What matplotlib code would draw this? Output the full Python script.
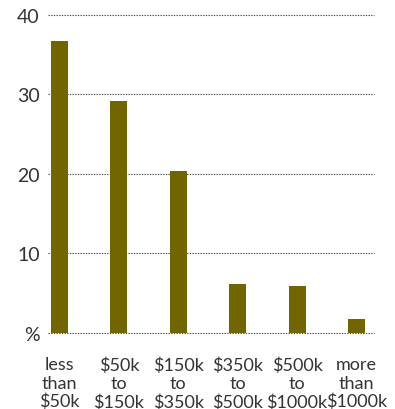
import matplotlib
matplotlib.use("Agg")
import matplotlib.pyplot as plt

categories = ["less\nthan\n$50k", "$50k\nto\n$150k", "$150k\nto\n$350k",
              "$350k\nto\n$500k", "$500k\nto\n$1000k", "more\nthan\n$1000k"]
values = [36.7, 29.2, 20.4, 6.1, 5.9, 1.7]
yticks = [0, 10, 20, 30, 40]
ytick_labels = ["%", "10", "20", "30", "40"]

plt.rcParams['font.family'] = ['Lato', 'DejaVu Sans']

fig = plt.figure(figsize=(3.95, 4.10), dpi=100)
ax = fig.add_axes([48/395, 1 - 333.7/410, (374-48)/395, (333.7-16)/410])

x = list(range(len(categories)))
ax.bar(x, values, width=0.286, color="#716500", zorder=3)

ax.set_xlim(-0.195, 5.295)
ax.set_ylim(0, 40)
ax.set_yticks(yticks)
ax.set_yticklabels(ytick_labels, fontsize=14, color="#333333")
ax.set_xticks(x)
ax.set_xticklabels(categories, fontsize=13, color="#333333", linespacing=1.17)
ax.tick_params(axis='y', length=0, pad=6)
ax.tick_params(axis='x', length=0, pad=17)

for v in yticks:
    ax.axhline(v, color="#444444", linestyle=(0, (1.2, 1.2)), linewidth=0.8,
               zorder=4 if v == 0 else 1, clip_on=False)

for s in ax.spines.values():
    s.set_visible(False)

fig.savefig("out.png", dpi=100)
